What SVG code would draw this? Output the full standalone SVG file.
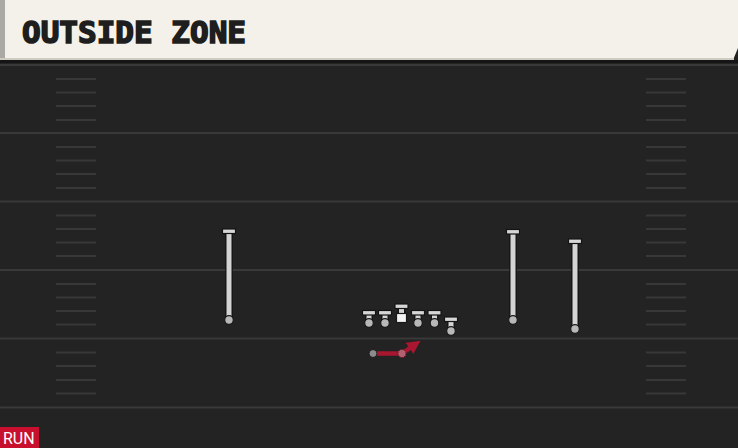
<svg xmlns="http://www.w3.org/2000/svg" width="738" height="448" viewBox="0 0 738 448">
<defs>
<style>
.yl{stroke:#393939;stroke-width:2}
.hm{stroke:#383838;stroke-width:2}
.stem{stroke:#141414;stroke-width:7.5}
.stemi{stroke:#d4d4d4;stroke-width:5}
.bar{fill:#d6d6d6;stroke:#141414;stroke-width:1.2}
.dot{fill:#b8b8b8;stroke:#1a1a1a;stroke-width:1.2}
.title{font-family:"DejaVu Sans Mono",monospace;font-weight:bold;font-size:30px;fill:#1e1e1e;stroke:#1e1e1e;stroke-width:1.6}
.tag{font-family:Roboto,"Liberation Sans",sans-serif;font-size:16px;fill:#fff}
</style>
<marker id="arr" viewBox="0 0 10 10" refX="5" refY="5" markerWidth="3" markerHeight="3" orient="auto" markerUnits="strokeWidth">
<path d="M0,0 L10,5 L0,10 z" fill="#a8172f"/>
</marker>
</defs>
<rect x="0" y="0" width="738" height="448" fill="#232323"/>
<g id="header">
<polygon points="0,0 738,0 738,48 733,60 0,60" fill="#f4f1ea"/>
<rect x="0" y="0" width="5" height="60" fill="#a9a9a6"/>
<rect x="0" y="58" width="734" height="2" fill="#cfccc4"/>
<rect x="0" y="60" width="738" height="3" fill="#151515"/>
<text class="title" x="22" y="43" textLength="224" lengthAdjust="spacingAndGlyphs">OUTSIDE ZONE</text>
</g>
<g id="field">
<line class="yl" x1="0" y1="65" x2="738" y2="65"/>
<line class="yl" x1="0" y1="133" x2="738" y2="133"/>
<line class="yl" x1="0" y1="201.5" x2="738" y2="201.5"/>
<line class="yl" x1="0" y1="270" x2="738" y2="270"/>
<line class="yl" x1="0" y1="338.5" x2="738" y2="338.5"/>
<line class="yl" x1="0" y1="407.5" x2="738" y2="407.5"/>
<path class="hm" d="M56,79H96M56,92.5H96M56,106H96M56,120H96M56,147H96M56,160.5H96M56,174H96M56,188H96M56,215.5H96M56,229H96M56,242.5H96M56,256H96M56,284H96M56,297.5H96M56,311H96M56,324.5H96M56,352.5H96M56,366H96M56,380H96M56,393.5H96"/>
<path class="hm" d="M646,79H686M646,92.5H686M646,106H686M646,120H686M646,147H686M646,160.5H686M646,174H686M646,188H686M646,215.5H686M646,229H686M646,242.5H686M646,256H686M646,284H686M646,297.5H686M646,311H686M646,324.5H686M646,352.5H686M646,366H686M646,380H686M646,393.5H686"/>
</g>
<g id="wr-left">
<line class="stem" x1="229" y1="232" x2="229" y2="319"/>
<line class="stemi" x1="229" y1="232" x2="229" y2="319"/>
<rect class="bar" x="222.5" y="229" width="13" height="4.5"/>
<circle class="dot" cx="229" cy="320" r="4.3"/>
</g>
<g id="wr-slot">
<line class="stem" x1="513" y1="232" x2="513" y2="319"/>
<line class="stemi" x1="513" y1="232" x2="513" y2="319"/>
<rect class="bar" x="506.5" y="229.5" width="13" height="4.5"/>
<circle class="dot" cx="513" cy="320" r="4.3"/>
</g>
<g id="wr-right">
<line class="stem" x1="575" y1="241" x2="575" y2="328"/>
<line class="stemi" x1="575" y1="241" x2="575" y2="328"/>
<rect class="bar" x="568.5" y="239" width="13" height="4.5"/>
<circle class="dot" cx="575" cy="329" r="4.3"/>
</g>
<g id="lt">
<line class="stem" x1="369" y1="313" x2="369" y2="322"/>
<line class="stemi" x1="369" y1="313" x2="369" y2="322"/>
<rect class="bar" x="362.5" y="310.5" width="13" height="4.5"/>
<circle class="dot" cx="369" cy="323" r="4.3"/>
</g>
<g id="lg">
<line class="stem" x1="385" y1="313" x2="385" y2="322"/>
<line class="stemi" x1="385" y1="313" x2="385" y2="322"/>
<rect class="bar" x="378.5" y="310.5" width="13" height="4.5"/>
<circle class="dot" cx="385" cy="323" r="4.3"/>
</g>
<g id="c">
<line class="stem" x1="401.5" y1="307" x2="401.5" y2="314"/>
<line class="stemi" x1="401.5" y1="307" x2="401.5" y2="314"/>
<rect class="bar" x="395" y="304" width="13" height="4.5"/>
<rect x="396.5" y="313.5" width="10" height="9" fill="#f4f4f4" stroke="#1a1a1a" stroke-width="1.2"/>
</g>
<g id="rg">
<line class="stem" x1="418" y1="313" x2="418" y2="322"/>
<line class="stemi" x1="418" y1="313" x2="418" y2="322"/>
<rect class="bar" x="411.5" y="310.5" width="13" height="4.5"/>
<circle class="dot" cx="418" cy="323" r="4.3"/>
</g>
<g id="rt">
<line class="stem" x1="434.5" y1="313" x2="434.5" y2="322"/>
<line class="stemi" x1="434.5" y1="313" x2="434.5" y2="322"/>
<rect class="bar" x="428" y="310.5" width="13" height="4.5"/>
<circle class="dot" cx="434.5" cy="323" r="4.3"/>
</g>
<g id="te">
<line class="stem" x1="451" y1="320" x2="451" y2="330"/>
<line class="stemi" x1="451" y1="320" x2="451" y2="330"/>
<rect class="bar" x="444.5" y="317" width="13" height="4.5"/>
<circle class="dot" cx="451" cy="331" r="4.3"/>
</g>
<g id="connectors">
<path d="M373,353.5 H402 L415,344.5" fill="none" stroke="#a8172f" stroke-width="4.5" marker-end="url(#arr)"/>
</g>
<g id="rb">
<circle cx="373" cy="353.5" r="4" fill="#8c8c8c" stroke="#1a1a1a" stroke-width="1"/>
<circle cx="402" cy="353.5" r="4" fill="#b06070" stroke="#6a1020" stroke-width="1" stroke-dasharray="1.5 1"/>
</g>
<g id="tag">
<rect x="0" y="427" width="39" height="21" fill="#c8102e"/>
<text class="tag" x="3" y="444">RUN</text>
</g>
</svg>
